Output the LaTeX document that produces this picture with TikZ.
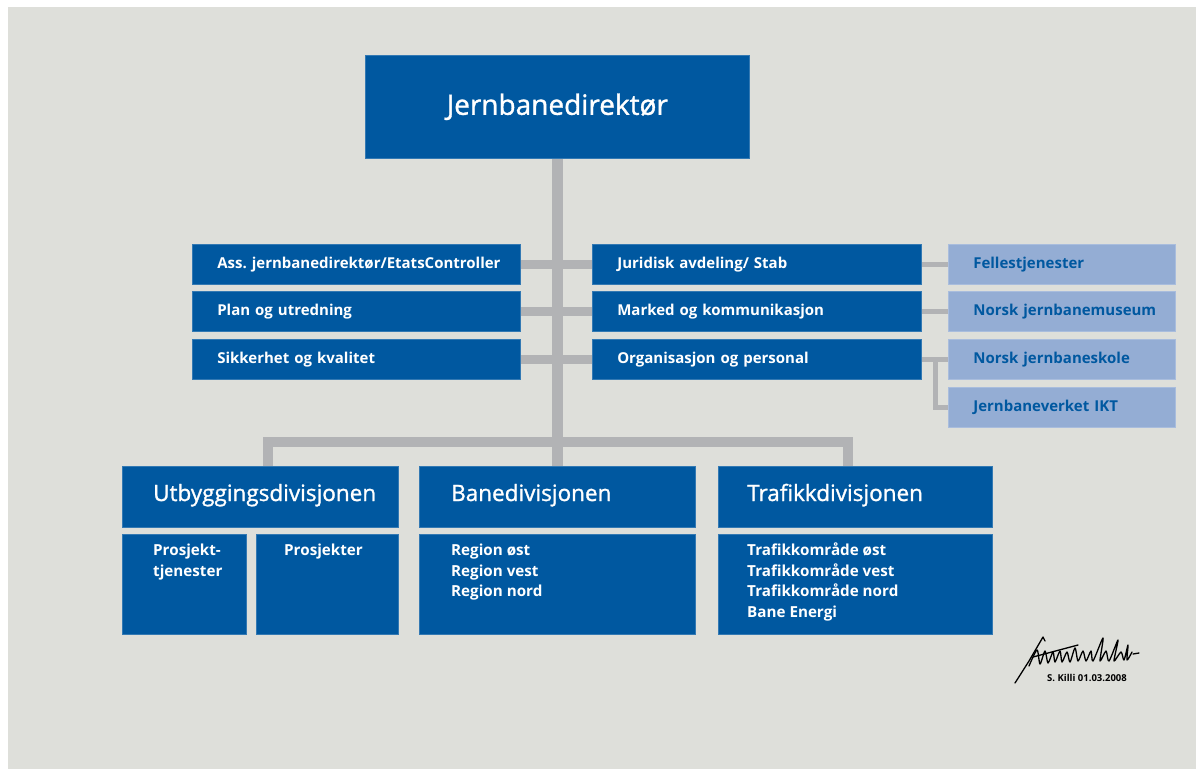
\documentclass[tikz,border=0pt]{standalone}
\usepackage{fontspec}
\setmainfont{Open Sans}
\newfontfamily\titlefont{Open Sans}[FakeBold=1.2]
\usetikzlibrary{backgrounds}
\definecolor{jbvblue}{RGB}{0,88,160}
\definecolor{jbvlight}{RGB}{148,173,212}
\definecolor{bggray}{RGB}{222,223,218}
\definecolor{linegray}{RGB}{178,179,181}
\frenchspacing
\begin{document}
\begin{tikzpicture}[x=1pt,y=-1pt,
  bx/.style={fill=jbvblue, draw=jbvblue!80!white, line width=0.6pt, inner sep=0pt, anchor=north west},
  lbx/.style={fill=jbvlight, draw=jbvlight!80!white, line width=0.6pt, inner sep=0pt, anchor=north west},
  rowtxt/.style={inner xsep=25pt, inner ysep=0pt, minimum height=40pt, align=left,
    font=\fontsize{15}{17}\selectfont\bfseries},
  lrow/.style={bx, rowtxt, text=white, text width=278pt},
  rrow/.style={bx, rowtxt, text=white, text width=279pt},
  frow/.style={lbx, rowtxt, text=jbvblue, text width=177pt},
  dtitle/.style={inner sep=0pt, anchor=base west, text=white, font=\fontsize{22.5}{26}\titlefont},
  subtxt/.style={inner sep=0pt, anchor=north west, align=left, text=white, font=\fontsize{15.2}{20.5}\selectfont\bfseries},
  thick line/.style={draw=linegray, line width=11pt},
  bus line/.style={draw=linegray, line width=10pt, line join=miter},
  mid line/.style={draw=linegray, line width=9pt},
  thin line/.style={draw=linegray, line width=5pt},
  sig/.style={draw=black, line width=1.3pt, line join=round, line cap=round}]
\useasboundingbox (0,0) rectangle (1196,769);

% top
\node[bx, minimum width=384pt, minimum height=103pt, text=white,
      font=\fontsize{28}{32}\titlefont] (top) at (365,55) {Jernbanedirektør};

% left column
\node[lrow] (ass) at (192,244) {\mbox{Ass. jernbanedirektør/EtatsController}};
\node[lrow] (plan) at (192,291) {\mbox{Plan og utredning}};
\node[lrow] (sikk) at (192,339) {\mbox{Sikkerhet og kvalitet}};
% right column
\node[rrow] (jur) at (592,244) {\mbox{Juridisk avdeling/ Stab}};
\node[rrow] (mark) at (592,291) {\mbox{Marked og kommunikasjon}};
\node[rrow] (org) at (592,339) {\mbox{Organisasjon og personal}};
% light column
\node[frow] (fell) at (948,244) {\mbox{Fellestjenester}};
\node[frow] (mus) at (948,291) {\mbox{Norsk jernbanemuseum}};
\node[frow] (skole) at (948,339) {\mbox{Norsk jernbaneskole}};
\node[frow] (ikt) at (948,387) {\mbox{Jernbaneverket IKT}};

% divisions
\node[bx, minimum width=276pt, minimum height=61pt] (utb) at (122,466) {};
\node[bx, minimum width=124pt, minimum height=100pt] (ptj) at (122,534) {};
\node[bx, minimum width=142pt, minimum height=100pt] (pro) at (256,534) {};
\node[bx, minimum width=276pt, minimum height=61pt] (bane) at (419,466) {};
\node[bx, minimum width=276pt, minimum height=100pt] (banesub) at (419,534) {};
\node[bx, minimum width=274pt, minimum height=61pt] (traf) at (718,466) {};
\node[bx, minimum width=274pt, minimum height=100pt] (trafsub) at (718,534) {};

\node[dtitle] (utbt) at (153,501) {Utbyggingsdivisjonen};
\node[dtitle] (banet) at (451,501) {Banedivisjonen};
\node[dtitle] (traft) at (747,501) {Trafikkdivisjonen};

\node[subtxt] (ptjt) at (153,544) {Prosjekt-\\tjenester};
\node[subtxt] (prot) at (284,544) {Prosjekter};
\node[subtxt] (banest) at (451,544) {Region øst\\Region vest\\Region nord};
\node[subtxt] (trafst) at (747,543) {Trafikkområde øst\\Trafikkområde vest\\Trafikkområde nord\\Bane Energi};

% signature
\node[inner sep=0pt, font=\fontsize{9.5}{11}\selectfont\bfseries] (sigtxt) at (1087,677.5) {S. Killi 01.03.2008};
\draw[sig] (1015,683) -- (1029,661) -- (1043,637) -- (1045,641);
\draw[sig] plot[smooth, tension=0.45] coordinates {
  (1029,666) (1037,650) (1040,664) (1045,651) (1048,663) (1053,652) (1055,662)
  (1060,651) (1062,662) (1067,652) (1070,662) (1075,648) (1078,661) (1083,651)
  (1086,661) (1091,651) (1093,661) (1103,638) (1100,661) (1106,651) (1109,661)
  (1118,640) (1114,661) (1121,652) (1124,660) (1128,645) (1127,660) (1132,652)};
\draw[sig] (1033,657) -- (1078,645);
\draw[sig] (1133,654) -- (1139,653);

% connectors
\coordinate (dl) at (267.5,442);
\coordinate (dr) at (847.5,442);
\coordinate (kx) at (935,359);
\begin{scope}[on background layer]
\fill[bggray] (8,7) rectangle (1196,769);
\draw[thick line] (top.south) -- (bane.north);
\draw[bus line] (utb.north -| dl) -- (dl) -- (dr) -- (traf.north -| dr);
\draw[mid line] (ass.east) -- (jur.west);
\draw[mid line] (plan.east) -- (mark.west);
\draw[mid line] (sikk.east) -- (org.west);
\draw[thin line] (jur.east) -- (fell.west);
\draw[thin line] (mark.east) -- (mus.west);
\draw[thin line] (org.east) -- (skole.west);
\draw[thin line] (org.east -| kx) |- (ikt.west);
\end{scope}
\end{tikzpicture}
\end{document}
